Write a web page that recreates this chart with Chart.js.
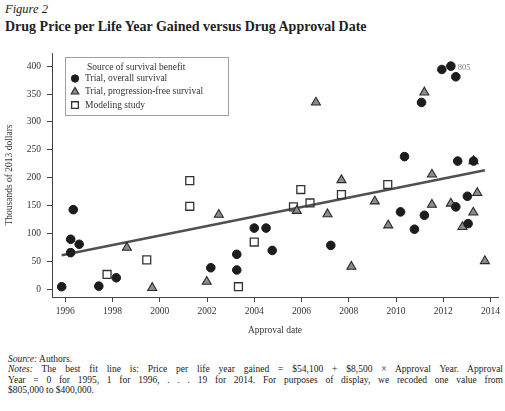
<!DOCTYPE html>
<html>
<head>
<meta charset="utf-8">
<script src="https://cdn.jsdelivr.net/npm/chart.js@4.4.1/dist/chart.umd.min.js"></script>
<style>
  html, body { margin: 0; padding: 0; background: #fff; }
  body {
    width: 505px; height: 411px; position: relative; overflow: hidden;
    font-family: "Liberation Serif", "Times New Roman", serif; color: #222;
  }
  #fig { position: absolute; left: 5px; top: 2px; font-style: italic; font-size: 12.5px; line-height: 14px; }
  #title { position: absolute; left: 5px; top: 19px; font-weight: bold; font-size: 14px; line-height: 16px; }
  #wrap { position: absolute; left: 0; top: 40px; width: 505px; height: 310px; }
  #notes { position: absolute; left: 8px; top: 354px; width: 495px; font-size: 9.5px; line-height: 10.3px; }
  #notes .j { text-align: justify; text-align-last: justify; }
  #notes i { font-style: italic; }
</style>
</head>
<body>
<div id="fig">Figure 2</div>
<div id="title">Drug Price per Life Year Gained versus Drug Approval Date</div>
<div id="wrap"><canvas id="chart" width="505" height="310"></canvas></div>
<div id="notes">
  <div><i>Source:</i> Authors.</div>
  <div class="j"><i>Notes:</i> The best fit line is: Price per life year gained = $54,100 + $8,500 × Approval Year. Approval</div>
  <div class="j">Year = 0 for 1995, 1 for 1996, . . . 19 for 2014. For purposes of display, we recoded one value from</div>
  <div>$805,000 to $400,000.</div>
</div>
<script>
// Axis ticks
const xTicks = [1996, 1998, 2000, 2002, 2004, 2006, 2008, 2010, 2012, 2014];
const yTicks = [0, 50, 100, 150, 200, 250, 300, 350, 400];

// Trial, overall survival (approval year, thousands of 2013 dollars)
const osYears  = [1995.85, 1996.34, 1996.23, 1996.59, 1996.23, 1997.42, 1998.16, 2002.16, 2003.26, 2003.26,
                  2004.00, 2004.50, 2004.76, 2007.24, 2010.19, 2010.36, 2010.78, 2011.08, 2011.20, 2011.94,
                  2012.32, 2012.53, 2012.53, 2012.61, 2013.02, 2013.05, 2013.28];
const osValues = [5, 143, 90, 81, 66, 6, 21, 39, 63, 35,
                  110, 110, 70, 79, 139, 238, 108, 335, 133, 394,
                  400, 381, 148, 230, 167, 118, 230];

// Trial, progression-free survival
const pfsYears  = [1998.61, 1999.68, 2001.99, 2002.50, 2005.80, 2006.61, 2007.10, 2007.69, 2008.11, 2009.10,
                   2009.67, 2011.20, 2011.52, 2011.52, 2012.32, 2012.81, 2013.27, 2013.28, 2013.44, 2013.76];
const pfsValues = [75, 3, 14, 134, 141, 335, 135, 196, 41, 158,
                   115, 353, 206, 152, 154, 112, 138, 230, 173, 51];

// Modeling study
const modelYears  = [1997.77, 1999.45, 2001.27, 2001.27, 2003.33, 2004.00, 2005.66, 2005.97, 2006.36, 2007.69, 2009.65];
const modelValues = [27, 53, 195, 149, 5, 85, 148, 179, 155, 170, 188];

// Recoded value (805 -> 400) and its label
const recodedIndex = 20;
const recodedLabel = '805';

// Best fit line: price = 54.1 + 8.5 * (year - 1995), thousands of dollars
const fitIntercept = 54.1;
const fitSlope = 8.5;
const fitBaseYear = 1995;

const legendTitle = 'Source of survival benefit';
const seriesNames = ['Trial, overall survival', 'Trial, progression-free survival', 'Modeling study'];

const toPoints = (xs, ys) => xs.map((x, i) => ({ x: x, y: ys[i] }));
const allYears = osYears.concat(pfsYears, modelYears);
const fitStart = Math.min(...allYears);
const fitEnd = Math.max(...allYears);
const fitAt = yr => fitIntercept + fitSlope * (yr - fitBaseYear);

const FONT = '"Liberation Serif", "Times New Roman", serif';
const AXIS = '#444';

const scatterSets = [
  {
    label: seriesNames[0], type: 'scatter', data: toPoints(osYears, osValues),
    pointStyle: 'circle', pointRadius: 4.3, backgroundColor: '#1c1c1c', borderColor: '#1c1c1c', borderWidth: 1, order: 1
  },
  {
    label: seriesNames[1], type: 'scatter', data: toPoints(pfsYears, pfsValues),
    pointStyle: 'triangle', pointRadius: 5.2, backgroundColor: '#8c8c8c', borderColor: '#2a2a2a', borderWidth: 1.1, order: 2
  },
  {
    label: seriesNames[2], type: 'scatter', data: toPoints(modelYears, modelValues),
    pointStyle: 'rect', pointRadius: 5.6, backgroundColor: 'rgba(255,255,255,0)', borderColor: '#333', borderWidth: 1.3, order: 3
  }
];

const fitSet = {
  label: 'Best fit', type: 'line',
  data: [{ x: fitStart, y: fitAt(fitStart) }, { x: fitEnd, y: fitAt(fitEnd) }],
  borderColor: '#505050', borderWidth: 2.4, pointRadius: 0, fill: false, order: 4
};

// Boxed legend in the upper-left corner of the plot
const survivalLegend = {
  id: 'survivalLegend',
  afterDraw(chart) {
    const { ctx, chartArea } = chart;
    const x0 = chartArea.left + 13, y0 = chartArea.top + 4, w = 163, h = 58;
    ctx.save();
    ctx.strokeStyle = '#a0a0a0';
    ctx.lineWidth = 1;
    ctx.strokeRect(Math.round(x0) + 0.5, Math.round(y0) + 0.5, w, h);
    ctx.font = '9.5px ' + FONT;
    ctx.textBaseline = 'middle';
    ctx.fillStyle = '#333';
    ctx.fillText(legendTitle, x0 + 22, y0 + 10);
    scatterSets.forEach((ds, i) => {
      const cy = y0 + 21.5 + i * 13.3;
      ctx.fillStyle = ds.backgroundColor;
      ctx.strokeStyle = ds.borderColor;
      ctx.lineWidth = ds.borderWidth;
      Chart.helpers.drawPoint(ctx, { pointStyle: ds.pointStyle, radius: ds.pointRadius * 0.85, rotation: 0, borderWidth: ds.borderWidth }, x0 + 10, cy);
      ctx.fillStyle = '#333';
      ctx.fillText(ds.label, x0 + 20, cy);
    });
    ctx.restore();
  }
};

// Value label beside the recoded point
const recodedTag = {
  id: 'recodedTag',
  afterDatasetsDraw(chart) {
    const pt = chart.getDatasetMeta(0).data[recodedIndex];
    if (!pt) return;
    const ctx = chart.ctx;
    ctx.save();
    ctx.font = '8.5px ' + FONT;
    ctx.fillStyle = '#808080';
    ctx.textBaseline = 'middle';
    ctx.fillText(recodedLabel, pt.x + 7, pt.y + 2);
    ctx.restore();
  }
};

new Chart(document.getElementById('chart'), {
  data: { datasets: scatterSets.concat([fitSet]) },
  options: {
    responsive: false,
    animation: false,
    layout: { padding: { top: 13, right: 4, bottom: 10, left: 0 } },
    plugins: { legend: { display: false }, tooltip: { enabled: false }, title: { display: false } },
    scales: {
      x: {
        type: 'linear', min: 1995.44, max: 2014.32,
        afterBuildTicks: s => { s.ticks = xTicks.map(v => ({ value: v })); },
        afterFit: s => { s.height = 43; },
        grid: { display: true, drawOnChartArea: false, drawTicks: true, tickLength: 5, color: AXIS, lineWidth: 1 },
        border: { display: true, color: AXIS, width: 1 },
        ticks: { color: '#333', font: { family: FONT, size: 9.5 }, padding: 4, maxRotation: 0, autoSkip: false,
                 callback: v => String(v) },
        title: { display: true, text: 'Approval date', color: '#333', font: { family: FONT, size: 9.5 }, padding: { top: 2, bottom: 4 } }
      },
      y: {
        type: 'linear', min: -13.4, max: 423.5,
        afterBuildTicks: s => { s.ticks = yTicks.map(v => ({ value: v })); },
        afterFit: s => { s.width = 52; },
        grid: { display: true, drawOnChartArea: false, drawTicks: true, tickLength: 5, color: AXIS, lineWidth: 1 },
        border: { display: true, color: AXIS, width: 1 },
        ticks: { color: '#333', font: { family: FONT, size: 9.5 }, padding: 6, callback: v => String(v) },
        title: { display: true, text: 'Thousands of 2013 dollars', color: '#333', font: { family: FONT, size: 9.5 }, padding: { top: 4, bottom: 2 } }
      }
    }
  },
  plugins: [survivalLegend, recodedTag]
});
</script>
</body>
</html>
